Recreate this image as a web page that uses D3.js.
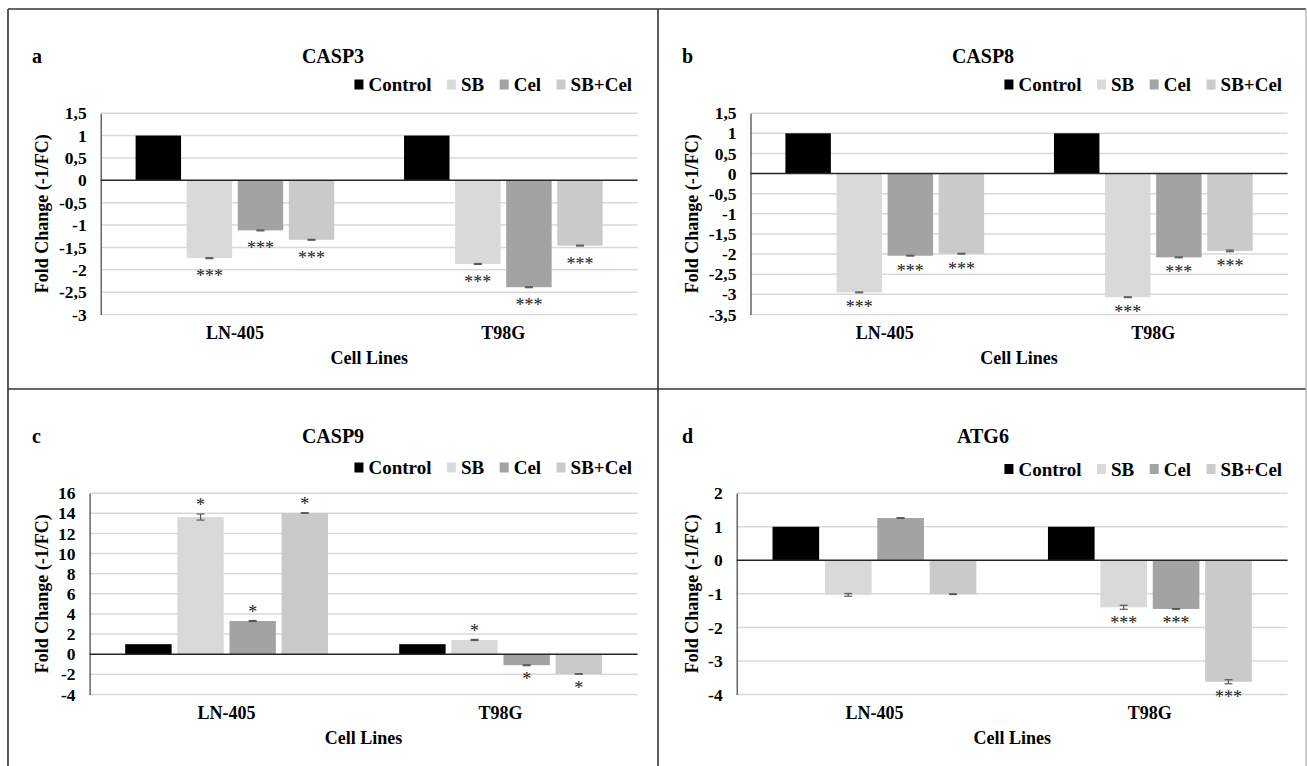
<!DOCTYPE html>
<html>
<head>
<meta charset="utf-8">
<script src="https://cdn.jsdelivr.net/npm/d3@7"></script>
<style>
  html, body { margin: 0; padding: 0; background: #fff; }
  svg { display: block; }
</style>
</head>
<body>
<svg id="chart" width="1307" height="766"></svg>
<script>
// ---------- DATA ----------
const categories = ["LN-405", "T98G"];
const seriesNames = ["Control", "SB", "Cel", "SB+Cel"];

const casp3Values = [[1, -1.74, -1.12, -1.33], [1, -1.87, -2.39, -1.46]];
const casp3Errors = [[0, 0.01, 0.01, 0.01], [0, 0.01, 0.01, 0.01]];
const casp3Stars  = [["", "***", "***", "***"], ["", "***", "***", "***"]];
const casp3Ticks  = [1.5, 1, 0.5, 0, -0.5, -1, -1.5, -2, -2.5, -3];

const casp8Values = [[1, -2.95, -2.04, -1.99], [1, -3.07, -2.08, -1.92]];
const casp8Errors = [[0, 0.01, 0.01, 0.01], [0, 0.01, 0.01, 0.02]];
const casp8Stars  = [["", "***", "***", "***"], ["", "***", "***", "***"]];
const casp8Ticks  = [1.5, 1, 0.5, 0, -0.5, -1, -1.5, -2, -2.5, -3, -3.5];

const casp9Values = [[1, 13.63, 3.3, 14.03], [1, 1.42, -1.09, -1.96]];
const casp9Errors = [[0, 0.3, 0.05, 0.03], [0, 0.05, 0.05, 0.03]];
const casp9Stars  = [["", "*", "*", "*"], ["", "*", "*", "*"]];
const casp9Ticks  = [16, 14, 12, 10, 8, 6, 4, 2, 0, -2, -4];

const atg6Values = [[1, -1.03, 1.26, -1.01], [1, -1.40, -1.45, -3.62]];
const atg6Errors = [[0, 0.04, 0.01, 0.01], [0, 0.06, 0.01, 0.06]];
const atg6Stars  = [["", "", "", ""], ["", "***", "***", "***"]];
const atg6Ticks  = [2, 1, 0, -1, -2, -3, -4];

const panelLetters = ["a", "b", "c", "d"];
const panelTitles = ["CASP3", "CASP8", "CASP9", "ATG6"];
const xAxisTitle = "Cell Lines";
const yAxisTitle = "Fold Change (-1/FC)";

// ---------- STYLE / LAYOUT ----------
const FONT = "'Liberation Serif', 'Times New Roman', Tinos, serif";
const colors = { "Control": "#000000", "SB": "#d9d9d9", "Cel": "#a3a3a3", "SB+Cel": "#cacaca" };
const panelW = 650;
const panelsLayout = [
  { x: 8,   y: 9,   plotLeft: 92.7, legendCy: 75.5, starOff: 15 },
  { x: 658, y: 9,   plotLeft: 92.5, legendCy: 75.5, starOff: 12 },
  { x: 8,   y: 389, plotLeft: 81.6, legendCy: 78.5, starOff: 11 },
  { x: 658, y: 389, plotLeft: 78.7, legendCy: 80,   starOff: 11 }
];
const plotRight = 629.6, plotTop = 104.2, plotBottom = 305.5;

const panels = [
  { values: casp3Values, errors: casp3Errors, stars: casp3Stars, ticks: casp3Ticks },
  { values: casp8Values, errors: casp8Errors, stars: casp8Stars, ticks: casp8Ticks },
  { values: casp9Values, errors: casp9Errors, stars: casp9Stars, ticks: casp9Ticks },
  { values: atg6Values,  errors: atg6Errors,  stars: atg6Stars,  ticks: atg6Ticks }
];

const svg = d3.select("#chart").style("font-family", FONT);
svg.append("rect").attr("width", 1307).attr("height", 766).attr("fill", "#fff");

const fmt = v => String(v).replace(".", ",");
const T = sel => sel.style("font-family", FONT);

panels.forEach((p, i) => {
  const L = panelsLayout[i];
  const g = svg.append("g").attr("transform", `translate(${L.x},${L.y})`);
  const left = L.plotLeft;

  const y = d3.scaleLinear()
    .domain([d3.min(p.ticks), d3.max(p.ticks)])
    .range([plotBottom, plotTop]);
  const x0 = d3.scaleBand().domain(categories).range([left, plotRight]).padding(0);
  const padFrac = 0.13;
  const x1 = d3.scaleBand().domain(seriesNames)
    .range([x0.bandwidth() * padFrac, x0.bandwidth() * (1 - padFrac)])
    .paddingInner(0.11).paddingOuter(0);

  // gridlines
  g.append("g").selectAll("line").data(p.ticks.filter(t => t !== 0)).join("line")
    .attr("x1", left).attr("x2", plotRight)
    .attr("y1", d => y(d)).attr("y2", d => y(d))
    .attr("stroke", "#d9d9d9").attr("stroke-width", 1.5);

  // y axis
  const yAxis = d3.axisLeft(y).tickValues(p.ticks).tickSize(0).tickPadding(14).tickFormat(fmt);
  const ya = g.append("g").attr("transform", `translate(${left},0)`).call(yAxis);
  ya.attr("font-family", null);
  ya.select(".domain").attr("stroke", "#404040").attr("stroke-width", 1.2);
  T(ya.selectAll("text"))
    .attr("font-weight", "bold").attr("font-size", 17.5).attr("fill", "#000");

  // bars
  const groups = g.append("g").selectAll("g").data(categories).join("g")
    .attr("transform", d => `translate(${x0(d)},0)`);
  groups.each(function (cat, ci) {
    const gg = d3.select(this);
    const rows = seriesNames.map((s, si) => ({
      s, v: p.values[ci][si], e: p.errors[ci][si], star: p.stars[ci][si]
    }));
    gg.selectAll("rect").data(rows).join("rect")
      .attr("x", d => x1(d.s))
      .attr("width", x1.bandwidth())
      .attr("y", d => y(Math.max(0, d.v)))
      .attr("height", d => Math.abs(y(d.v) - y(0)))
      .attr("fill", d => colors[d.s]);

    // error bars
    const eb = rows.filter(d => d.e > 0);
    const cap = 4;
    const cxf = d => x1(d.s) + x1.bandwidth() / 2;
    const ebG = gg.append("g").attr("stroke", "#595959").attr("stroke-width", 1.2);
    ebG.selectAll("line.v").data(eb).join("line").attr("class", "v")
      .attr("x1", cxf).attr("x2", cxf)
      .attr("y1", d => y(d.v - d.e)).attr("y2", d => y(d.v + d.e));
    ebG.selectAll("line.t").data(eb).join("line").attr("class", "t")
      .attr("x1", d => cxf(d) - cap).attr("x2", d => cxf(d) + cap)
      .attr("y1", d => y(d.v + d.e)).attr("y2", d => y(d.v + d.e));
    ebG.selectAll("line.b").data(eb).join("line").attr("class", "b")
      .attr("x1", d => cxf(d) - cap).attr("x2", d => cxf(d) + cap)
      .attr("y1", d => y(d.v - d.e)).attr("y2", d => y(d.v - d.e));

    // significance stars
    const fs = 18;
    T(gg.selectAll("text.star").data(rows.filter(d => d.star)).join("text").attr("class", "star"))
      .attr("x", cxf)
      .attr("y", d => {
        const cy = d.v >= 0 ? y(d.v + d.e) - L.starOff : y(d.v - d.e) + L.starOff;
        return cy + 0.47 * fs;
      })
      .attr("text-anchor", "middle").attr("font-size", fs).attr("fill", "#222")
      .text(d => d.star);
  });

  // zero line
  g.append("line").attr("x1", left).attr("x2", plotRight)
    .attr("y1", y(0)).attr("y2", y(0))
    .attr("stroke", "#262626").attr("stroke-width", 1.5);

  // category labels
  T(g.append("g").selectAll("text").data(categories).join("text"))
    .attr("x", d => x0(d) + x0.bandwidth() / 2).attr("y", 329.5)
    .attr("text-anchor", "middle").attr("font-weight", "bold").attr("font-size", 18)
    .text(d => d);

  // axis titles
  T(g.append("text")).attr("x", (left + plotRight) / 2).attr("y", 355)
    .attr("text-anchor", "middle").attr("font-weight", "bold").attr("font-size", 18)
    .text(xAxisTitle);
  T(g.append("text"))
    .attr("transform", `translate(40,${(plotTop + plotBottom) / 2}) rotate(-90)`)
    .attr("text-anchor", "middle").attr("font-weight", "bold").attr("font-size", 18)
    .text(yAxisTitle);

  // letter + title
  T(g.append("text")).attr("x", 24).attr("y", 53.7)
    .attr("font-weight", "bold").attr("font-size", 20).text(panelLetters[i]);
  T(g.append("text")).attr("x", panelW / 2).attr("y", 53.7)
    .attr("text-anchor", "middle").attr("font-weight", "bold").attr("font-size", 20)
    .text(panelTitles[i]);

  // legend (right aligned)
  const leg = g.append("g");
  const items = leg.selectAll("g").data(seriesNames).join("g");
  items.append("rect").attr("width", 9).attr("height", 10).attr("fill", d => colors[d]);
  T(items.append("text")).attr("x", 14).attr("y", 0)
    .attr("font-weight", "bold").attr("font-size", 19).text(d => d);
  let cx = 0;
  const positions = [];
  items.each(function () {
    const w = d3.select(this).select("text").node().getComputedTextLength();
    positions.push(cx);
    cx += 14 + w + 15.5;
  });
  const totalW = cx - 15.5;
  const startX = plotRight - 5.5 - totalW;
  items.attr("transform", (d, k) => `translate(${startX + positions[k]},${L.legendCy})`);
  items.select("rect").attr("y", -5);
  items.select("text").attr("y", 6.5);
});

// panel borders
const bord = svg.append("g").attr("stroke", "#333").attr("stroke-width", 1.6);
bord.append("line").attr("x1", 8).attr("x2", 1306).attr("y1", 9).attr("y2", 9);
bord.append("line").attr("x1", 8).attr("x2", 1306).attr("y1", 389).attr("y2", 389);
bord.append("line").attr("x1", 8).attr("x2", 8).attr("y1", 9).attr("y2", 766);
bord.append("line").attr("x1", 658).attr("x2", 658).attr("y1", 9).attr("y2", 766);
svg.append("line").attr("x1", 1306).attr("x2", 1306).attr("y1", 9).attr("y2", 766)
  .attr("stroke", "#aaa").attr("stroke-width", 1.2);
</script>
</body>
</html>
